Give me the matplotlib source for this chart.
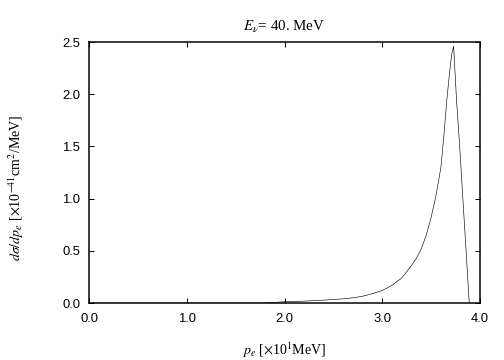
import matplotlib
matplotlib.use('Agg')
import matplotlib.pyplot as plt

# valores (p_e em 10 MeV, dsigma/dp_e em 1e-41 cm^2/MeV)
p_e = [0.0, 1.0, 1.8, 2.0, 2.2, 2.4, 2.6, 2.7, 2.8, 2.9, 3.0, 3.1, 3.2, 3.3, 3.35,
       3.4, 3.45, 3.5, 3.55, 3.6, 3.63, 3.66, 3.69, 3.71, 3.73, 3.76, 3.79, 3.89]
dsig = [0.0, 0.0, 0.0, 0.012, 0.018, 0.027, 0.04, 0.05, 0.065, 0.09, 0.12, 0.17, 0.24,
        0.36, 0.43, 0.52, 0.65, 0.82, 1.03, 1.30, 1.60, 1.94, 2.22, 2.38, 2.46, 1.94,
        1.53, 0.0]

xticks = [0.0, 1.0, 2.0, 3.0, 4.0]
yticks = [0.0, 0.5, 1.0, 1.5, 2.0, 2.5]

plt.rcParams['mathtext.fontset'] = 'stix'

fig = plt.figure(figsize=(7, 5), dpi=72)
ax = fig.add_axes([0.1766, 0.1583, 0.7758, 0.725])

ax.plot(p_e, dsig, color='black', lw=0.6)

ax.set_xlim(0, 4.0)
ax.set_ylim(0, 2.5)
ax.set_xticks(xticks)
ax.set_yticks(yticks)
ax.set_xticklabels([f'{v:.1f}' for v in xticks], family='Liberation Sans', fontsize=13)
ax.set_yticklabels([f'{v:.1f}' for v in yticks], family='Liberation Sans', fontsize=13)
ax.tick_params(axis='x', direction='in', length=5, width=1, top=True, pad=10)
ax.tick_params(axis='y', direction='in', length=5, width=1, right=True, pad=9)
for s in ax.spines.values():
    s.set_linewidth(1.5)

ax.set_title(r'$E_{\nu}$= 40. MeV', family='Liberation Serif', fontsize=15, pad=11)
ax.set_xlabel(r'$p_e$ [$\times$10$^1$MeV]', family='Liberation Serif', fontsize=14)
ax.set_ylabel(r'$d\sigma/dp_e$ [$\times$10$^{-41}$cm$^2$/MeV]', family='Liberation Serif',
              fontsize=14)
ax.xaxis.set_label_coords(0.5, -0.145)
ax.yaxis.set_label_coords(-0.16, 0.44)

fig.savefig('out.png', dpi=72)
